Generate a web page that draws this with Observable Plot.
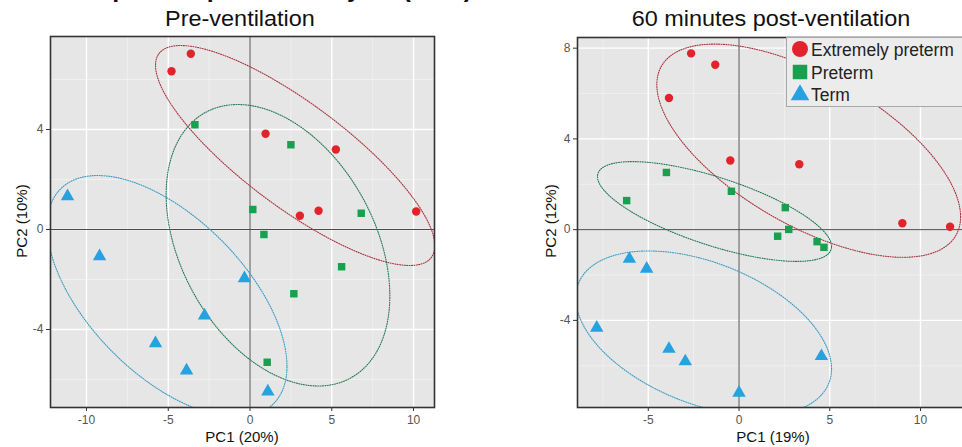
<!DOCTYPE html>
<html><head><meta charset="utf-8">
<script src="https://cdn.jsdelivr.net/npm/d3@7"></script>
<script src="https://cdn.jsdelivr.net/npm/@observablehq/plot@0.6"></script>
<style>
html,body{margin:0;padding:0;background:#fff;overflow:hidden;}
#wrap{position:relative;width:962px;height:447px;overflow:hidden;font-family:"Liberation Sans",Arial,sans-serif;}
.abs{position:absolute;white-space:nowrap;line-height:1;color:#111;}
</style></head><body><div id="wrap"></div>
<script>
// ---------- data ----------
const groups = ["Extremely preterm", "Preterm", "Term"];
const groupColors = ["#e3232c", "#17a04e", "#26a2e0"];
const ellipseColors = ["#a8323f", "#237a55", "#3a9cc4"];
const groupSymbols = ["circle", "square", "triangle"];

// Pre-ventilation (PC1 20%, PC2 10%)
const pre_EP_pc1 = [-4.8, -3.62, 0.95, 5.25, 3.05, 4.19, 10.16];
const pre_EP_pc2 = [6.33, 7.03, 3.83, 3.2, 0.55, 0.75, 0.72];
const pre_P_pc1 = [-3.37, 2.5, 0.17, 6.8, 0.85, 5.6, 2.68, 1.05];
const pre_P_pc2 = [4.19, 3.39, 0.8, 0.65, -0.2, -1.49, -2.57, -5.31];
const pre_T_pc1 = [-11.16, -9.2, -0.34, -2.78, -5.78, -3.88, 1.09];
const pre_T_pc2 = [1.33, -1.07, -1.95, -3.44, -4.55, -5.64, -6.48];

// 60 minutes post-ventilation (PC1 19%, PC2 12%)
const post_EP_pc1 = [-2.64, -1.31, -3.86, -0.48, 3.32, 9.0, 11.63];
const post_EP_pc2 = [7.77, 7.27, 5.8, 3.05, 2.88, 0.28, 0.13];
const post_P_pc1 = [-6.19, -4.0, -0.42, 2.55, 2.74, 2.13, 4.3, 4.68];
const post_P_pc2 = [1.28, 2.52, 1.69, 0.97, 0.01, -0.29, -0.53, -0.78];
const post_T_pc1 = [-6.04, -5.09, -7.84, -3.86, -2.96, 4.54, 0.0];
const post_T_pc2 = [-1.29, -1.73, -4.33, -5.26, -5.81, -5.58, -7.19];

// group ellipses (order: Extremely preterm, Preterm, Term)
// centre, half-extent along PC1 and PC2, and PC1/PC2 correlation of the outline
const pre_ell_cx = [2.76, 1.71, -5.07];
const pre_ell_cy = [2.96, -0.63, -2.67];
const pre_ell_hx = [8.54, 6.84, 7.33];
const pre_ell_hy = [4.4, 5.63, 4.83];
const pre_ell_rho = [-0.82, -0.36, -0.58];
const post_ell_cx = [3.84, -1.35, -1.95];
const post_ell_cy = [3.48, 0.8, -4.57];
const post_ell_hx = [8.37, 6.45, 7.05];
const post_ell_hy = [4.7, 2.2, 3.63];
const post_ell_rho = [-0.62, -0.7, -0.43];

// tick labels
const preXTicks = [-10, -5, 0, 5, 10];
const preYTicks = [-4, 0, 4];
const postXTicks = [-5, 0, 5, 10];
const postYTicks = [-4, 0, 4, 8];

// outline of an ellipse given its centre, half-extents and correlation
function ellipseOutline(cx, cy, hx, hy, rho, segments = 160) {
  const delta = Math.acos(rho);
  return d3.range(segments + 1).map(k => {
    const t = k * 2 * Math.PI / segments;
    return {x: cx + hx * Math.cos(t), y: cy + hy * Math.cos(t - delta)};
  });
}

// ---------- panel ----------
function panel(o) {
  const marks = [
    Plot.frame({fill: "#e6e6e6", stroke: null}),
    Plot.gridX(o.xMinor, {stroke: "#f3f3f3", strokeOpacity: 1, strokeWidth: 0.7}),
    Plot.gridY(o.yMinor, {stroke: "#f3f3f3", strokeOpacity: 1, strokeWidth: 0.7}),
    Plot.gridX(o.xTicks, {stroke: "#ffffff", strokeOpacity: 1, strokeWidth: 1.4}),
    Plot.gridY(o.yTicks, {stroke: "#ffffff", strokeOpacity: 1, strokeWidth: 1.4}),
    Plot.ruleX([0], {stroke: "#4a4a4a", strokeWidth: 1}),
    Plot.ruleY([0], {stroke: "#4a4a4a", strokeWidth: 1})
  ];
  const e = o.ell;
  groups.forEach((g, i) => {
    marks.push(Plot.line(ellipseOutline(e.cx[i], e.cy[i], e.hx[i], e.hy[i], e.rho[i]),
      {x: "x", y: "y", stroke: ellipseColors[i], strokeWidth: 1.1, strokeDasharray: "1,1.4", clip: true}));
  });
  const sets = o.sets.map(s => s.pc1.map((x, j) => ({x, y: s.pc2[j]})));
  sets.forEach((pts, i) => {
    marks.push(Plot.dot(pts, {x: "x", y: "y", symbol: groupSymbols[i], fill: groupColors[i], r: i === 2 ? 5 : 4.2, stroke: null}));
  });
  marks.push(Plot.frame({stroke: "#333", strokeWidth: 1.6}));
  marks.push(Plot.axisX(o.xTicks, {tickSize: 4, tickPadding: 4, fontSize: 12, fill: "#555", stroke: "#333", label: null, tickFormat: d => String(d)}));
  marks.push(Plot.axisY(o.yTicks, {tickSize: 4, tickPadding: 3, fontSize: 12, fill: "#555", stroke: "#333", label: null, tickFormat: d => String(d)}));
  const svg = Plot.plot({
    width: o.width, height: o.height,
    marginTop: o.mt, marginBottom: o.mb, marginLeft: o.ml, marginRight: o.mr,
    x: {domain: o.xDomain}, y: {domain: o.yDomain},
    style: {background: "transparent", fontFamily: "Liberation Sans, Arial, sans-serif", fontSize: "12px"},
    marks
  });
  svg.style.position = "absolute";
  svg.style.left = o.left + "px";
  svg.style.top = o.top + "px";
  return svg;
}

const wrap = document.getElementById("wrap");

wrap.appendChild(panel({
  sets: [{pc1: pre_EP_pc1, pc2: pre_EP_pc2}, {pc1: pre_P_pc1, pc2: pre_P_pc2}, {pc1: pre_T_pc1, pc2: pre_T_pc2}],
  ell: {cx: pre_ell_cx, cy: pre_ell_cy, hx: pre_ell_hx, hy: pre_ell_hy, rho: pre_ell_rho},
  xDomain: [-12.2, 11.28], yDomain: [-7.12, 7.72],
  xTicks: preXTicks, yTicks: preYTicks,
  xMinor: [-7.5, -2.5, 2.5, 7.5], yMinor: [-6, -2, 2, 6],
  left: 0, top: 26, width: 444, height: 421, mt: 10, mb: 40, ml: 50, mr: 10
}));

wrap.appendChild(panel({
  sets: [{pc1: post_EP_pc1, pc2: post_EP_pc2}, {pc1: post_P_pc1, pc2: post_P_pc2}, {pc1: post_T_pc1, pc2: post_T_pc2}],
  ell: {cx: post_ell_cx, cy: post_ell_cy, hx: post_ell_hx, hy: post_ell_hy, rho: post_ell_rho},
  xDomain: [-8.9, 12.7], yDomain: [-7.84, 8.47],
  xTicks: postXTicks, yTicks: postYTicks,
  xMinor: [-7.5, -2.5, 2.5, 7.5, 12.5], yMinor: [-6, -2, 2, 6],
  left: 527, top: 26, width: 452, height: 421, mt: 11, mb: 40, ml: 50, mr: 10
}));

function addText(txt, css) {
  const d = document.createElement("div");
  d.className = "abs";
  d.textContent = txt;
  Object.assign(d.style, css);
  wrap.appendChild(d);
  return d;
}
// figure heading (cropped at the top edge in the original)
addText("B. Principal component analysis (PCA)", {right: (962 - 472) + "px", top: "-24px", fontSize: "25px", fontWeight: "bold"});
// panel titles
addText("Pre-ventilation", {left: "240px", top: "8px", fontSize: "22px", transform: "translateX(-50%) scaleX(1.065)"});
addText("60 minutes post-ventilation", {left: "771px", top: "8px", fontSize: "22px", transform: "translateX(-50%) scaleX(1.065)"});
// axis titles
addText("PC1 (20%)", {left: "242px", top: "429px", fontSize: "15px", transform: "translateX(-50%)"});
addText("PC1 (19%)", {left: "773px", top: "429px", fontSize: "15px", transform: "translateX(-50%)"});
addText("PC2 (10%)", {left: "21px", top: "221px", fontSize: "15px", transform: "translate(-50%,-50%) rotate(-90deg)"});
addText("PC2 (12%)", {left: "550px", top: "221px", fontSize: "15px", transform: "translate(-50%,-50%) rotate(-90deg)"});

// legend
const lg = d3.select(wrap).append("svg")
  .style("position", "absolute").style("left", "786px").style("top", "37px")
  .attr("width", 200).attr("height", 70);
lg.append("rect").attr("x", 0.5).attr("y", 0.5).attr("width", 220).attr("height", 69)
  .attr("fill", "#ececec").attr("stroke", "#a8a8a8");
const symTypes = [d3.symbolCircle, d3.symbolSquare, d3.symbolTriangle];
const symSizes = [200, 210, 150];
const rowY = [12, 35, 57];
groups.forEach((g, i) => {
  lg.append("path").attr("d", d3.symbol(symTypes[i], symSizes[i])())
    .attr("transform", `translate(14,${rowY[i] + (i === 2 ? 1 : 0)})`).attr("fill", groupColors[i]);
  lg.append("text").attr("x", 25).attr("y", rowY[i] + 6.5).text(g)
    .attr("font-size", 17.5).attr("fill", "#222")
    .attr("font-family", "Liberation Sans, Arial, sans-serif");
});
</script></body></html>
